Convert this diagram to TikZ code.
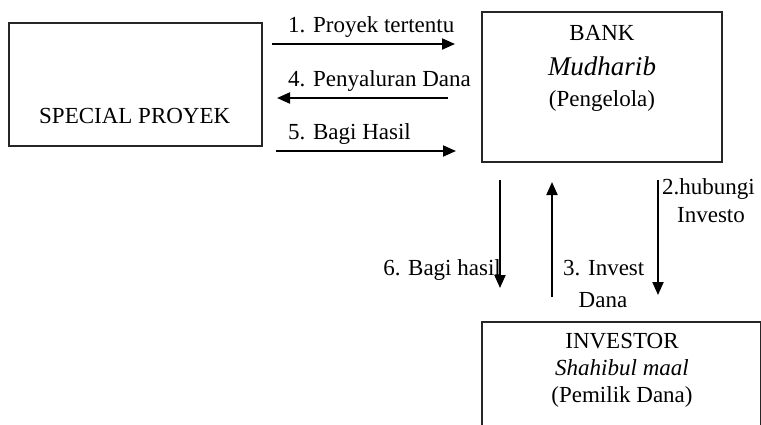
\documentclass[tikz,border=0pt]{standalone}
\usepackage{fontspec}
\setmainfont{Liberation Serif}
\usetikzlibrary{arrows.meta}
\tikzset{
  boxnode/.style={draw=black!85, line width=1.3pt, minimum width=#1, inner sep=0pt},
  flow/.style={line width=2pt, -{Triangle[length=13pt,width=11pt]}},
  txt/.style={inner sep=0pt, font=\fontsize{23}{27}\selectfont},
  bigit/.style={inner sep=0pt, font=\fontsize{27}{31}\selectfont\itshape},
}
\begin{document}
\begin{tikzpicture}[x=1pt,y=-1pt]
\clip (0,0) rectangle (761,424);
\fill[white] (0,0) rectangle (761,424);
% boxes
\node[boxnode=253pt, minimum height=123pt] (special) at (135.5,84.5) {};
\node[boxnode=240pt, minimum height=150pt] (bank) at (602,87) {};
\node[boxnode=279pt, minimum height=130pt] (investor) at (621.5,387) {};
% box texts
\node[txt, anchor=base west] (tsp) at (39,123) {SPECIAL PROYEK};
\node[txt, anchor=base] (tbank) at (602,40) {BANK};
\node[bigit, anchor=base] (tmud) at (602,75) {Mudharib};
\node[txt, anchor=base] (tpeng) at (602,106) {(Pengelola)};
\node[txt, anchor=base] (tinv) at (622,348) {INVESTOR};
\node[txt, anchor=base, font=\fontsize{23}{27}\selectfont\itshape] (tshah) at (622,375) {Shahibul maal};
\node[txt, anchor=base] (tpem) at (622,402) {(Pemilik Dana)};
% arrow end points
\coordinate (a1s) at (272,44);  \coordinate (a1e) at (455,44);
\coordinate (a4s) at (448,98);  \coordinate (a4e) at (277,98);
\coordinate (a5s) at (276,151); \coordinate (a5e) at (456,151);
\coordinate (a6s) at (500,180); \coordinate (a6e) at (500,288);
\coordinate (a3s) at (552,297); \coordinate (a3e) at (552,182);
\coordinate (a2s) at (658,180); \coordinate (a2e) at (658,295);
\draw[flow] (a1s) -- (a1e);
\draw[flow] (a4s) -- (a4e);
\draw[flow] (a5s) -- (a5e);
\draw[flow] (a6s) -- (a6e);
\draw[flow] (a3s) -- (a3e);
\draw[flow] (a2s) -- (a2e);
% labels
\node[txt, anchor=base west] (l1) at (288,32) {1. Proyek tertentu};
\node[txt, anchor=base west] (l4) at (288,86) {4. Penyaluran Dana};
\node[txt, anchor=base west] (l5) at (288,139) {5. Bagi Hasil};
\node[txt, anchor=base east] (l6) at (501,275) {6. Bagi hasil};
\node[txt, anchor=base west] (l3) at (563,275) {3. Invest};
\node[txt, anchor=base] (l3b) at (603,307) {Dana};
\node[txt, anchor=base west] (l2) at (662,194) {2.hubungi};
\node[txt, anchor=base] (l2b) at (711,222) {Investo};
\end{tikzpicture}
\end{document}
